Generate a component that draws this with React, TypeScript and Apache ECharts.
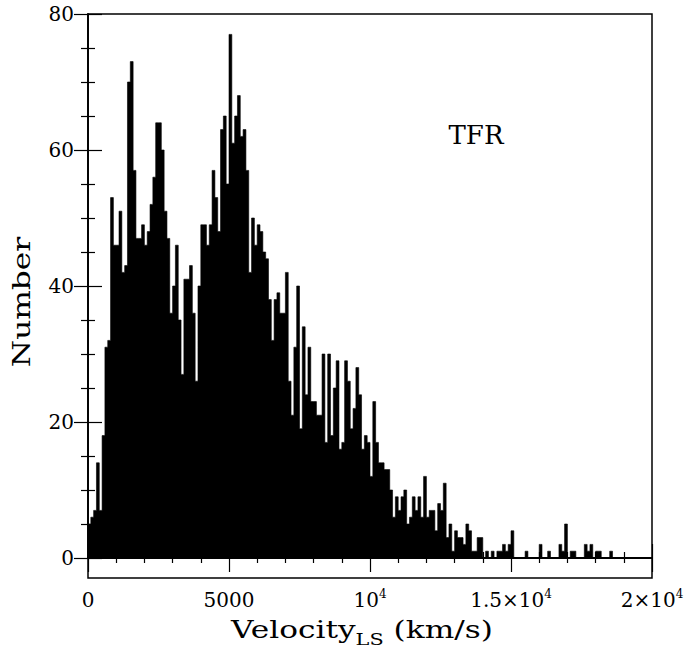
import React, { useEffect, useRef } from "react";
import * as echarts from "echarts";

// Histogram of velocities (bin width 100 km/s, starting at 0)
const BIN_WIDTH = 100;
const counts: number[] = [
  5, 6, 7, 14, 7, 18, 31, 32, 53, 46,
  46, 51, 42, 43, 70, 73, 57, 47, 47, 49,
  46, 48, 52, 56, 64, 64, 60, 51, 47, 36,
  40, 46, 35, 27, 41, 41, 43, 36, 26, 40,
  49, 49, 46, 49, 57, 53, 48, 63, 65, 55,
  77, 61, 65, 68, 62, 63, 57, 42, 50, 46,
  49, 48, 45, 44, 38, 32, 38, 39, 36, 36,
  42, 26, 21, 31, 40, 19, 34, 24, 31, 23,
  23, 21, 21, 30, 17, 30, 18, 25, 29, 16,
  17, 29, 26, 19, 22, 28, 24, 16, 18, 17,
  12, 23, 17, 14, 14, 13, 13, 10, 6, 9,
  7, 9, 10, 5, 6, 9, 7, 9, 6, 12,
  6, 7, 7, 4, 8, 7, 11, 3, 5, 1,
  4, 3, 3, 2, 5, 4, 1, 1, 3, 3,
  0, 1, 0, 1, 0, 1, 1, 2, 1, 2,
  4, 0, 0, 0, 0, 1, 0, 0, 0, 0,
  2, 0, 0, 1, 0, 0, 0, 2, 1, 5,
  0, 1, 1, 0, 0, 0, 2, 1, 2, 0,
  1, 1, 0, 0, 0, 1, 0, 0, 0, 0,
  0, 0, 0, 0, 0, 0, 0, 0, 0, 0,
];

const xTickValues = [0, 5000, 10000, 15000, 20000];
const xTickLabels = ["0", "5000", "{b|10}{s|4}", "{b|1.5×10}{s|4}", "{b|2×10}{s|4}"];
const X_MIN = 0;
const X_MAX = 20000;
const Y_MIN = 0;
const Y_MAX = 80;
const annotation = "TFR";
const yTitle = "Number";
const xTitleMain = "Velocity";
const xTitleSub = "LS";
const xTitleUnit = " (km/s)";

const FONT = "DejaVu Serif";

export default function App() {
  const ref = useRef<HTMLDivElement>(null);

  useEffect(() => {
    document.body.style.margin = "0";
    if (!ref.current) return;
    const chart = echarts.init(ref.current, undefined, { renderer: "svg" });

    const gridLeft = 88;
    const gridTop = 14;
    const gridWidth = 564;
    const gridHeight = 544;
    const bottomOffset = 20;

    const tickStyle = { color: "#000", width: 1.2 };
    const lineStyle = { color: "#000", width: 1.5 };

    // step histogram: each point is (bin start, count); the value holds until the next bin start
    const stepData: number[][] = counts.map((c, i) => [i * BIN_WIDTH, c]);
    stepData.push([counts.length * BIN_WIDTH, 0]);

    const option: any = {
      animation: false,
      backgroundColor: "#fff",
      grid: { left: gridLeft, top: gridTop, width: gridWidth, height: gridHeight },
      xAxis: [
        {
          type: "value",
          position: "bottom",
          min: X_MIN,
          max: X_MAX,
          interval: 5000,
          offset: bottomOffset,
          axisLine: { show: true, lineStyle },
          axisTick: { show: true, inside: true, length: 14, lineStyle: tickStyle },
          minorTick: { show: true, splitNumber: 5, length: 6, lineStyle: tickStyle },
          splitLine: { show: false },
          minorSplitLine: { show: false },
          axisLabel: {
            show: true,
            margin: 10,
            color: "#000",
            fontFamily: FONT,
            fontSize: 20,
            lineHeight: 24,
            showMinLabel: true,
            showMaxLabel: true,
            formatter: (v: number) => {
              const i = xTickValues.indexOf(v);
              return i >= 0 ? xTickLabels[i] : "";
            },
            rich: {
              b: { fontFamily: FONT, fontSize: 20, lineHeight: 24, color: "#000" },
              s: { fontFamily: FONT, fontSize: 12, lineHeight: 14, verticalAlign: "top", color: "#000" },
            },
          },
        },
        {
          type: "value",
          position: "top",
          min: X_MIN,
          max: X_MAX,
          interval: 5000,
          axisLine: { show: true, lineStyle },
          axisTick: { show: true, inside: true, length: 14, lineStyle: tickStyle },
          minorTick: { show: true, splitNumber: 5, length: 5, lineStyle: tickStyle },
          splitLine: { show: false },
          axisLabel: { show: false },
        },
      ],
      yAxis: [
        {
          type: "value",
          position: "left",
          min: Y_MIN,
          max: Y_MAX,
          interval: 20,
          axisLine: { show: true, lineStyle },
          axisTick: { show: true, inside: true, length: 14, lineStyle: tickStyle },
          minorTick: { show: true, splitNumber: 4, length: 7, lineStyle: tickStyle },
          splitLine: { show: false },
          axisLabel: {
            show: true,
            margin: 14,
            color: "#000",
            fontFamily: FONT,
            fontSize: 20,
            showMinLabel: true,
            showMaxLabel: true,
          },
        },
        {
          type: "value",
          position: "right",
          min: Y_MIN,
          max: Y_MAX,
          interval: 20,
          axisLine: { show: true, lineStyle },
          axisTick: { show: true, inside: true, length: 14, lineStyle: tickStyle },
          minorTick: { show: true, splitNumber: 4, length: 7, lineStyle: tickStyle },
          splitLine: { show: false },
          axisLabel: { show: false },
        },
      ],
      series: [
        {
          type: "line",
          xAxisIndex: 0,
          yAxisIndex: 0,
          data: stepData,
          step: "end",
          symbol: "none",
          silent: true,
          lineStyle: { color: "#000", width: 0.6 },
          areaStyle: { color: "#000", opacity: 1, origin: 0 },
        },
        {
          type: "line",
          xAxisIndex: 0,
          yAxisIndex: 0,
          data: [
            [X_MIN, 0],
            [X_MAX, 0],
          ],
          symbol: "none",
          silent: true,
          lineStyle: { color: "#000", width: 2 },
        },
      ],
      graphic: [
        {
          type: "rect",
          silent: true,
          z: 100,
          shape: { x: gridLeft, y: gridTop, width: gridWidth, height: gridHeight + bottomOffset },
          style: { fill: "none", stroke: "#000", lineWidth: 1.5 },
        },
        {
          type: "text",
          x: 476,
          y: 135,
          silent: true,
          style: {
            text: annotation,
            fontFamily: FONT,
            fontSize: 26,
            fill: "#000",
            align: "center",
            verticalAlign: "middle",
            textAlign: "center",
            textVerticalAlign: "middle",
          },
        },
        {
          type: "text",
          x: 22,
          y: 302,
          rotation: Math.PI / 2,
          scaleX: 1.3,
          silent: true,
          style: {
            text: yTitle,
            fontFamily: FONT,
            fontSize: 24,
            fill: "#000",
            align: "center",
            verticalAlign: "middle",
            textAlign: "center",
            textVerticalAlign: "middle",
          },
        },
        {
          type: "text",
          x: 362,
          y: 630,
          scaleX: 1.3,
          silent: true,
          style: {
            text: `{a|${xTitleMain}}{s|${xTitleSub}}{a|${xTitleUnit}}`,
            fill: "#000",
            align: "center",
            verticalAlign: "middle",
            textAlign: "center",
            textVerticalAlign: "middle",
            rich: {
              a: { fontFamily: FONT, fontSize: 24, lineHeight: 34, fill: "#000" },
              s: { fontFamily: FONT, fontSize: 16, lineHeight: 14, verticalAlign: "bottom", fill: "#000" },
            },
          },
        },
      ],
    };

    chart.setOption(option);
    return () => {
      chart.dispose();
    };
  }, []);

  return <div ref={ref} style={{ width: 700, height: 649 }} />;
}
